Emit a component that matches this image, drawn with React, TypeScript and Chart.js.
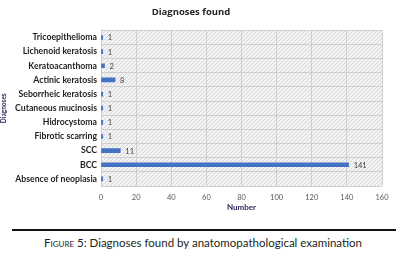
import React, { useEffect, useRef } from "react";
import { Chart, registerables } from "chart.js";

Chart.register(...registerables);

const categories = [
  "Tricoepithelioma",
  "Lichenoid keratosis",
  "Keratoacanthoma",
  "Actinic keratosis",
  "Seborrheic keratosis",
  "Cutaneous mucinosis",
  "Hidrocystoma",
  "Fibrotic scarring",
  "SCC",
  "BCC",
  "Absence of neoplasia",
];
const counts = [1, 1, 2, 8, 1, 1, 1, 1, 11, 141, 1];
const xTicks = [0, 20, 40, 60, 80, 100, 120, 140, 160];

const LEFT = 101;
const RIGHT = 382;

function makePattern(ctx: CanvasRenderingContext2D) {
  const c = document.createElement("canvas");
  c.width = 4;
  c.height = 4;
  const p = c.getContext("2d")!;
  p.fillStyle = "#f3f3f3";
  p.fillRect(0, 0, 4, 4);
  p.fillStyle = "#d6d6d6";
  for (let i = 0; i < 4; i++) p.fillRect(i, 3 - i, 1, 1);
  return ctx.createPattern(c, "repeat")!;
}

const bgPlugin = {
  id: "hatchBg",
  beforeDraw(chart: any) {
    const { ctx, chartArea } = chart;
    ctx.save();
    ctx.fillStyle = makePattern(ctx);
    ctx.fillRect(chartArea.left, chartArea.top, chartArea.right - chartArea.left, chartArea.bottom - chartArea.top);
    ctx.restore();
  },
};

const labelPlugin = {
  id: "valueLabels",
  afterDatasetsDraw(chart: any) {
    const { ctx } = chart;
    const meta = chart.getDatasetMeta(0);
    ctx.save();
    ctx.font = "7.5px Lato, sans-serif";
    ctx.fillStyle = "#404040";
    ctx.textAlign = "left";
    ctx.textBaseline = "middle";
    meta.data.forEach((bar: any, i: number) => {
      ctx.fillText(String(counts[i]), bar.x + 5, bar.y + 0.5);
    });
    ctx.restore();
  },
};

export default function App() {
  const ref = useRef<HTMLCanvasElement>(null);
  useEffect(() => {
    document.body.style.margin = "0";
    const chart = new Chart(ref.current!, {
      type: "bar",
      data: {
        labels: categories,
        datasets: [
          {
            data: counts,
            backgroundColor: "#4472C4",
            borderWidth: 0,
            barThickness: 4,
          },
        ],
      },
      options: {
        indexAxis: "y",
        animation: false,
        responsive: false,
        maintainAspectRatio: false,
        layout: { padding: { left: 0, right: 406 - RIGHT, top: 0, bottom: 0 } },
        plugins: {
          legend: { display: false },
          tooltip: { enabled: false },
          title: {
            display: true,
            text: "Diagnoses found",
            color: "#262626",
            font: { family: "'Open Sans', sans-serif", size: 9.5, weight: "bold" },
            padding: { top: 7, bottom: 12 },
          },
        },
        scales: {
          x: {
            min: 0,
            max: 160,
            afterBuildTicks(axis: any) {
              axis.ticks = xTicks.map((v) => ({ value: v }));
            },
            afterFit(axis: any) {
              axis.height = 29;
            },
            grid: { color: "#cfcfcf", lineWidth: 1, drawTicks: false },
            border: { display: false },
            ticks: {
              color: "#595959",
              font: { family: "Lato, sans-serif", size: 7.5 },
              padding: 7,
            },
            title: {
              display: true,
              text: "Number",
              color: "#2b2b5c",
              font: { family: "Lato, sans-serif", size: 8, weight: "bold" },
              padding: { top: 0, bottom: 3 },
            },
          },
          y: {
            offset: true,
            grid: { color: "#cfcfcf", lineWidth: 1, offset: true, drawTicks: false },
            border: { display: false },
            afterFit(axis: any) {
              axis.width = LEFT;
            },
            ticks: {
              autoSkip: false,
              color: "#1e1e1e",
              font: { family: "Lato, sans-serif", size: 8.7, weight: "bold" },
              padding: 4,
            },
            title: {
              display: true,
              text: "Diagnoses",
              color: "#2b2b5c",
              font: { family: "Lato, sans-serif", size: 6.5, weight: "bold" },
              padding: 0,
            },
          },
        },
      },
      plugins: [bgPlugin, labelPlugin],
    });
    return () => chart.destroy();
  }, []);

  return (
    <div style={{ position: "relative", width: 406, height: 257, background: "#fff" }}>
      <canvas ref={ref} width={406} height={215} style={{ display: "block" }} />
      <div
        style={{
          position: "absolute",
          left: 12,
          top: 229,
          width: 384,
          height: 2,
          background: "#111",
        }}
      />
      <div
        style={{
          position: "absolute",
          left: 0,
          width: 406,
          top: 236,
          textAlign: "center",
          fontFamily: "Lato, sans-serif",
          fontSize: 11.5,
          color: "#231f20",
          whiteSpace: "nowrap",
        }}
      >
        <span style={{ fontVariant: "small-caps" }}>Figure 5:</span> Diagnoses found by anatomopathological examination
      </div>
    </div>
  );
}
